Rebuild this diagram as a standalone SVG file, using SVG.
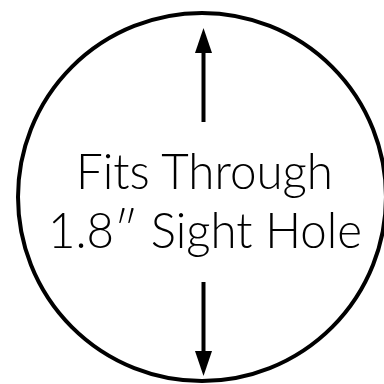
<svg xmlns="http://www.w3.org/2000/svg" width="384" height="384" viewBox="0 0 384 384">
<style>
.ring{fill:#fff;stroke:#000;stroke-width:4}
.shaft{stroke:#000;stroke-width:4;fill:none}
.head{fill:#000}
.lbl{font-family:Lato,"Open Sans",sans-serif;font-weight:300;font-size:50px;fill:#000;text-anchor:middle}
</style>
<rect width="384" height="384" fill="#fff"/>
<g id="hole">
<circle class="ring" cx="202" cy="197" r="184"/>
<text class="lbl" x="204.5" y="189" textLength="257" lengthAdjust="spacingAndGlyphs">Fits Through</text>
<text class="lbl" x="205" y="248" textLength="314" lengthAdjust="spacingAndGlyphs">1.8″ Sight Hole</text>
</g>
<g id="connectors">
<line class="shaft" x1="203.5" y1="122" x2="203.5" y2="48"/>
<polygon class="head" points="203.5,28 195,53 212,53"/>
<line class="shaft" x1="203.5" y1="282" x2="203.5" y2="356"/>
<polygon class="head" points="203.5,376 195,351 212,351"/>
</g>
</svg>
